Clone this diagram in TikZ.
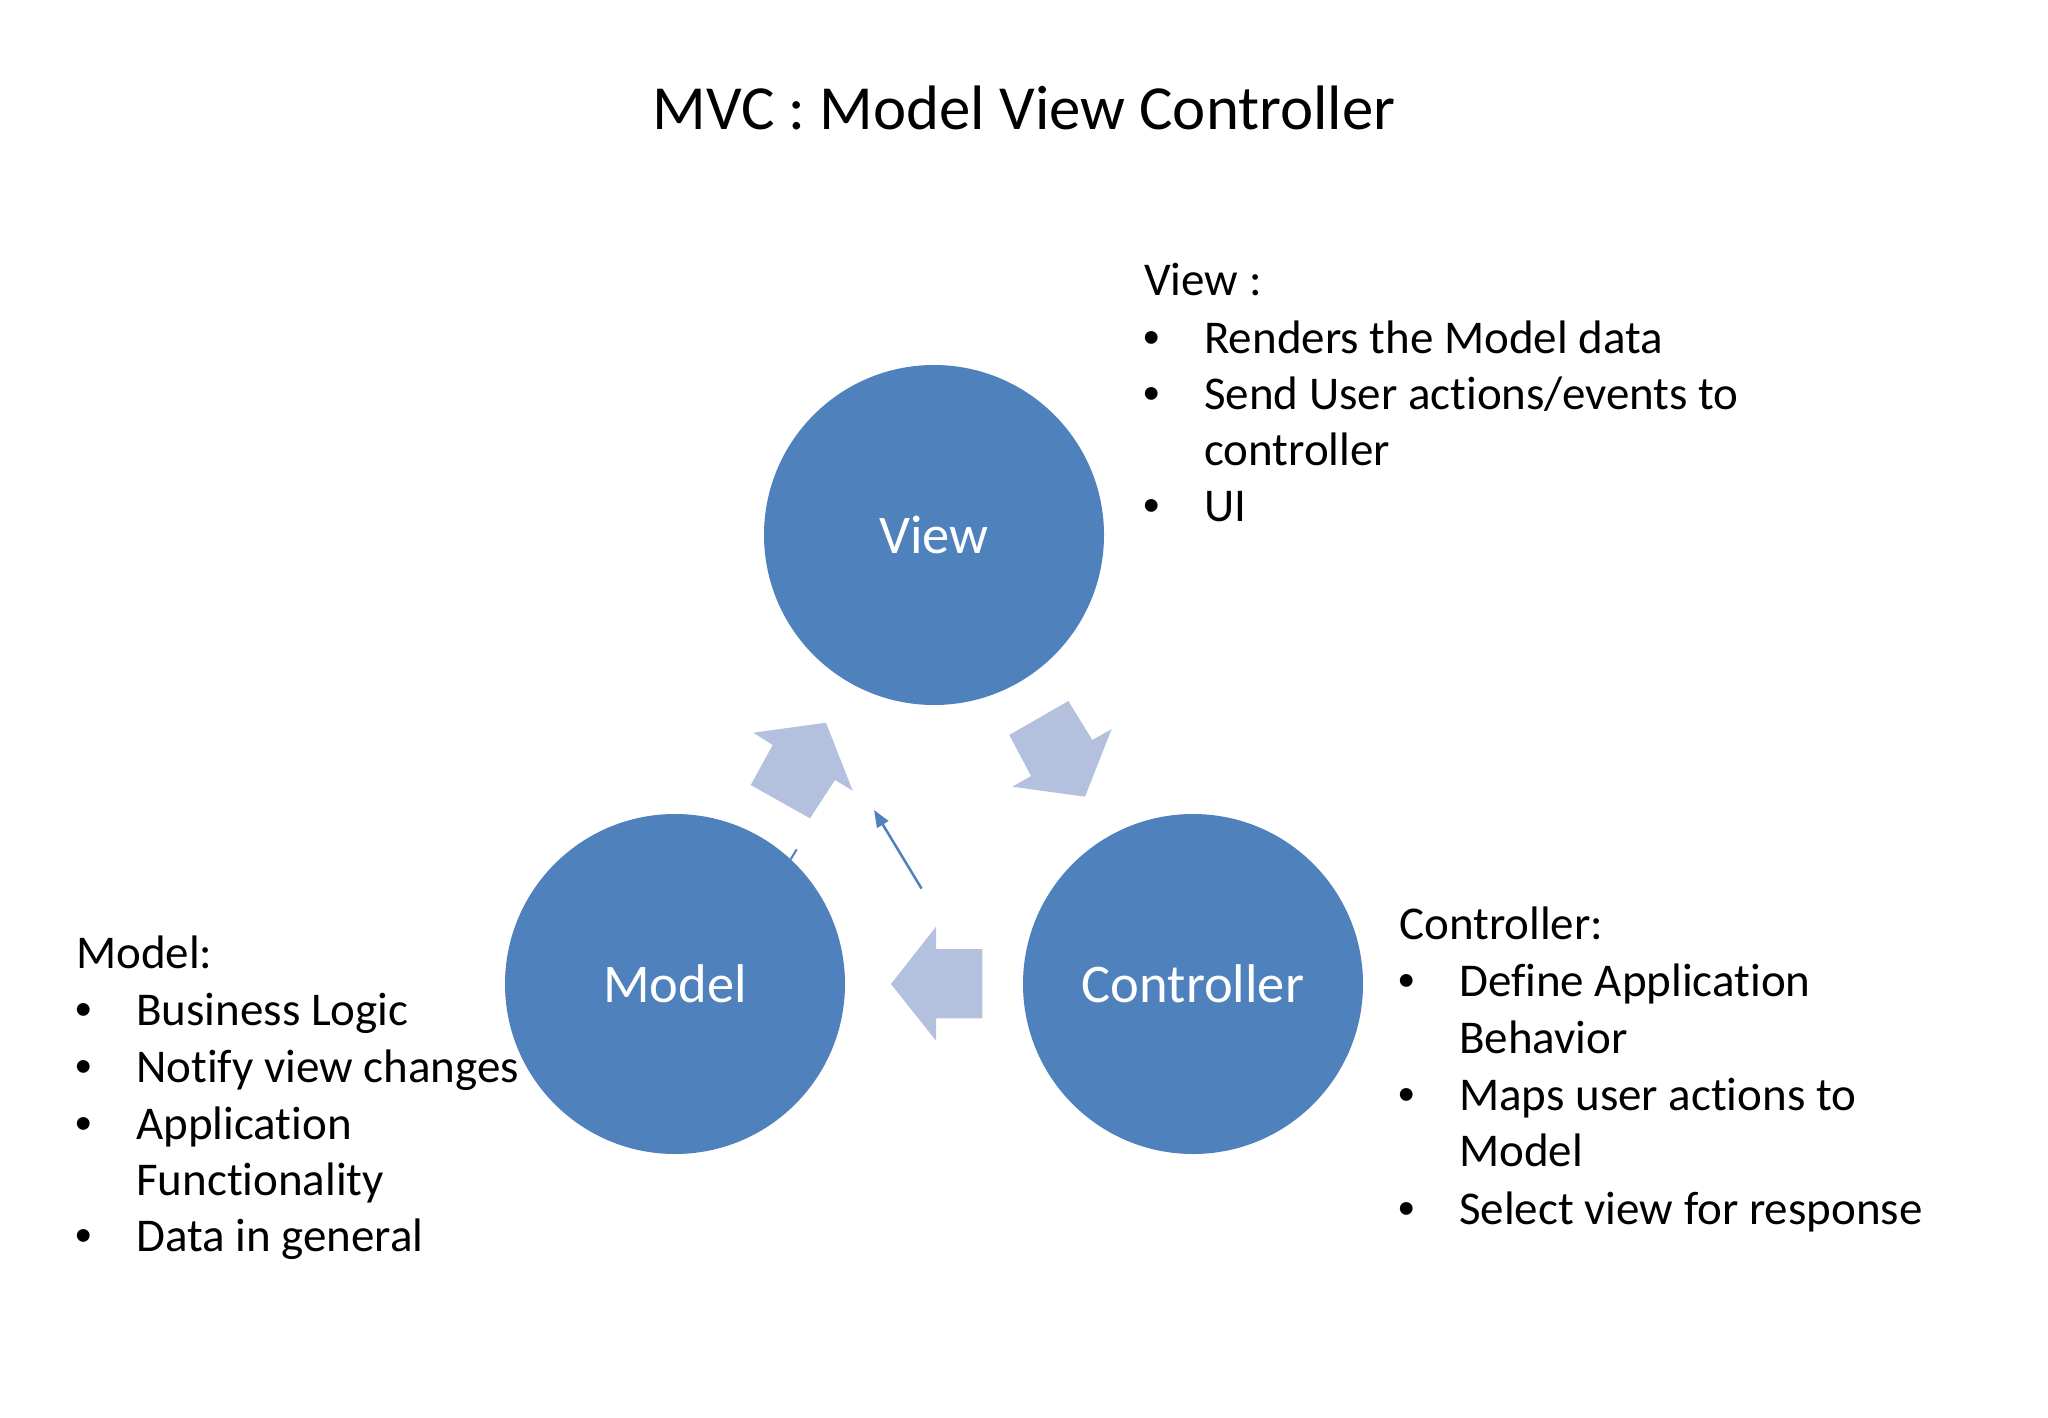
\documentclass[tikz,border=0pt]{standalone}
\usepackage{fontspec}
\setmainfont{Carlito}[Ligatures={NoCommon}]
\newfontfamily\bulfont{Liberation Sans}
\usetikzlibrary{arrows.meta}
\definecolor{circblue}{RGB}{79,129,189}
\definecolor{arrowblue}{RGB}{180,193,222}
\begin{document}
\begin{tikzpicture}[x=1pt,y=-1pt,
  circ/.style={circle, fill=circblue, minimum size=340pt, inner sep=0pt, text=white, font=\fontsize{54.5}{65}\selectfont},
  blockarrow/.style={fill=arrowblue, draw=none},
  body/.style={anchor=base west, inner sep=0pt, font=\fontsize{47}{57}\selectfont},
  bul/.style={anchor=base, inner sep=0pt, font=\bulfont\fontsize{47}{57}\selectfont},
  thin/.style={draw=circblue, line width=2.5pt}
]
\useasboundingbox[fill=white] (0,0) rectangle (2048,1418);

% title
\node[anchor=base, inner sep=0pt, font=\fontsize{62.8}{75}\selectfont] (title) at (1024,130) {MVC : Model View Controller};

% circles
\node[circ] (view) at (934,535) {View};
\node[circ] (model) at (675,984) {Model};
\node[circ] (ctrl) at (1193,984) {Controller};

% block arrows
\fill[blockarrow] (750.7,785) -- (772.7,745) -- (753.3,732.7) -- (826,722.7) -- (852.7,790.7) -- (835,780) -- (810,818.3) -- cycle;
\fill[blockarrow] (1009.3,735) -- (1068.3,701) -- (1092.3,740) -- (1111.7,729) -- (1085,796.7) -- (1012.3,786.7) -- (1031,776) -- cycle;
\fill[blockarrow] (891,984) -- (936,926.7) -- (936,949) -- (982.3,949) -- (982.3,1018.3) -- (936,1018.3) -- (936,1040.7) -- cycle;

% thin arrow and small tick
\coordinate (ta) at (921.5,888.5);
\coordinate (tb) at (874,810);
\draw[thin, -{Triangle[length=17pt,width=13pt]}] (ta) -- (tb);
\coordinate (tk1) at (796.7,849.3);
\coordinate (tk2) at (790.7,859.3);
\draw[draw=circblue, line width=2pt] (tk1) -- (tk2);

% View text
\node[body] (vh) at (1144,295) {View :};
\node[bul] (vb1) at (1152,353) {•};
\node[body] (vt1) at (1204,353) {Renders the Model data};
\node[bul] (vb2) at (1152,409) {•};
\node[body] (vt2) at (1204,409) {Send User actions/events to};
\node[body] (vt2b) at (1204,465) {controller};
\node[bul] (vb3) at (1152,521) {•};
\node[body] (vt3) at (1204,521) {UI};

% Model text
\node[body] (mh) at (76,968) {Model:};
\node[bul] (mb1) at (84,1025) {•};
\node[body] (mt1) at (136,1025) {Business Logic};
\node[bul] (mb2) at (84,1082) {•};
\node[body] (mt2) at (136,1082) {Notify view changes};
\node[bul] (mb3) at (84,1139) {•};
\node[body] (mt3) at (136,1139) {Application};
\node[body] (mt3b) at (136,1195) {Functionality};
\node[bul] (mb4) at (84,1251) {•};
\node[body] (mt4) at (136,1251) {Data in general};

% Controller text
\node[body] (ch) at (1399,939) {Controller:};
\node[bul] (cb1) at (1407,996) {•};
\node[body] (ct1) at (1459,996) {Define Application};
\node[body] (ct1b) at (1459,1053) {Behavior};
\node[bul] (cb2) at (1407,1110) {•};
\node[body] (ct2) at (1459,1110) {Maps user actions to};
\node[body] (ct2b) at (1459,1166) {Model};
\node[bul] (cb3) at (1407,1224) {•};
\node[body] (ct3) at (1459,1224) {Select view for response};
\end{tikzpicture}
\end{document}
